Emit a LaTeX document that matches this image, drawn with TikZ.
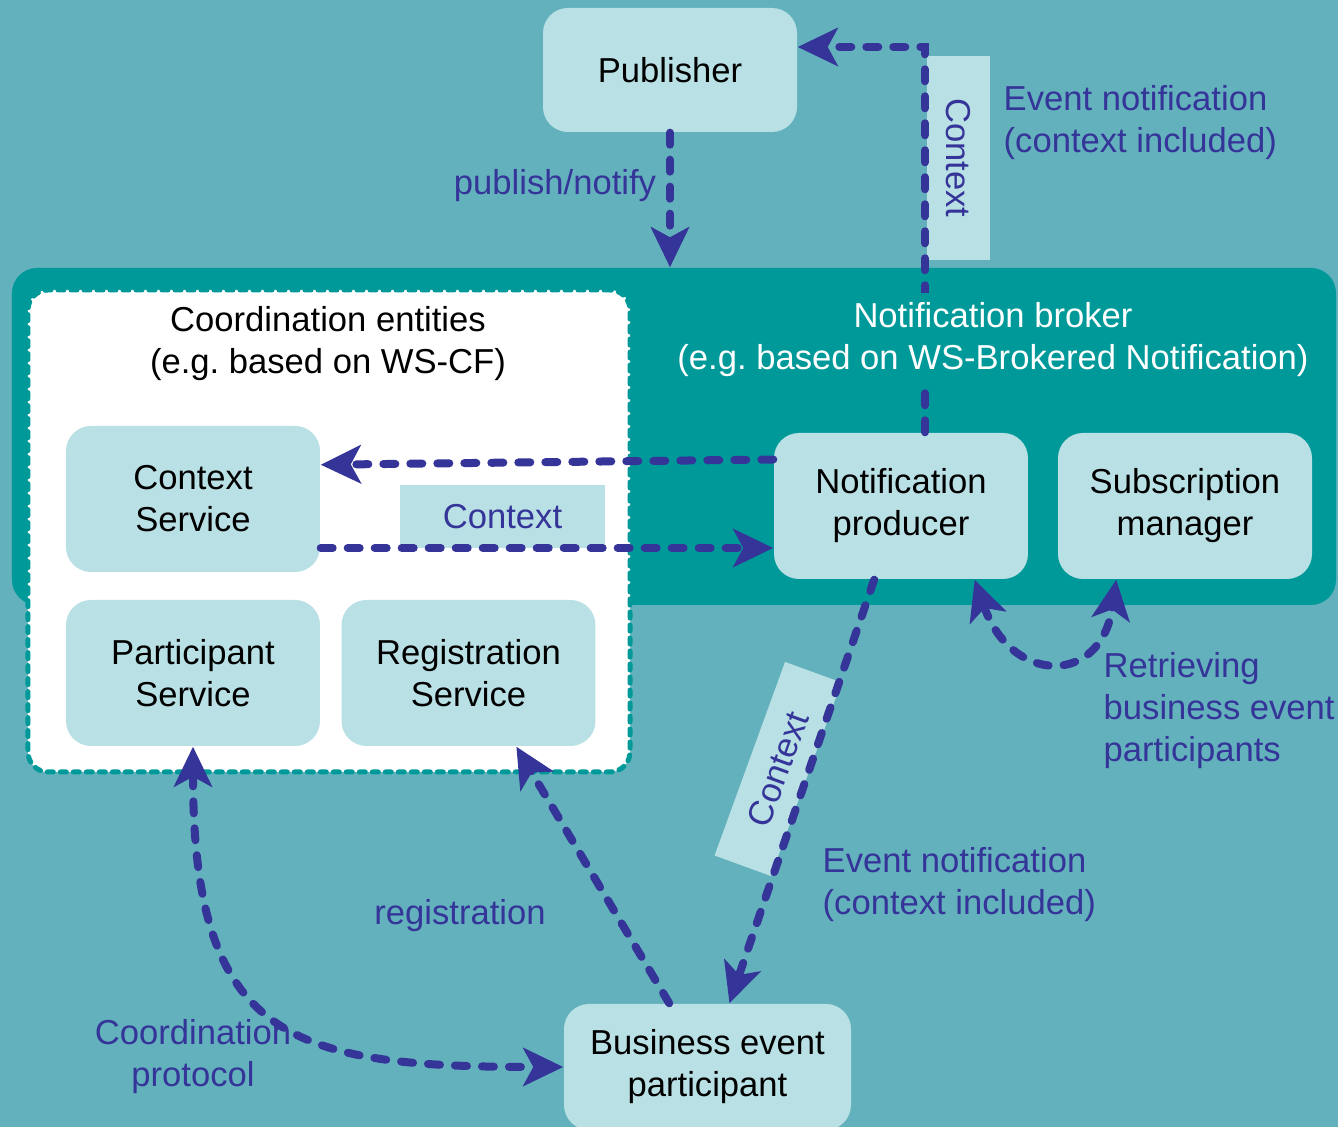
\documentclass[tikz,border=0pt]{standalone}
\usepackage{fontspec}
\setmainfont{Liberation Sans}
\usepackage{tikz}
\usetikzlibrary{arrows.meta}

\definecolor{bgteal}{RGB}{99,177,188}
\definecolor{brokerteal}{RGB}{0,153,153}
\definecolor{boxblue}{RGB}{185,224,228}
\definecolor{arrowblue}{RGB}{53,53,153}

\begin{document}
\begin{tikzpicture}[
		txt/.style={font=\fontsize{9.85}{11.95}\selectfont\frenchspacing},
		service/.style={txt, rectangle, rounded corners=0.25cm, fill=boxblue, minimum width=2.54cm, minimum height=1.46cm, align=center, inner sep=0},
		note/.style={txt, text=arrowblue, align=left, inner sep=0, yshift=-0.04cm},
		ctxbox/.style={txt, fill=boxblue, text=arrowblue, inner sep=0, minimum height=0.63cm},
		flow/.style={arrowblue, line width=0.08cm, line cap=round, dash pattern=on 0.12cm off 0.15cm, -{Stealth[length=0.4cm,width=0.38cm,inset=0.1cm]}},
		twoway/.style={flow, {Stealth[length=0.4cm,width=0.38cm,inset=0.1cm]}-{Stealth[length=0.4cm,width=0.38cm,inset=0.1cm]}},
	]
			\fill[bgteal] (0,0) rectangle (13.38,-11.27);
			\useasboundingbox (0,0) rectangle (13.38,-11.27);

			% broker and coordination area
			\node (br) [fill=brokerteal, rounded corners=0.25cm, minimum width=13.24cm, minimum height=3.37cm, inner sep=0] at (6.74,-4.365) {};
			\node (ce) [fill=white, draw=brokerteal, line width=0.05cm, line cap=round, dash pattern=on 0.06cm off 0.07cm, rounded corners=0.2cm, minimum width=6.02cm, minimum height=4.82cm, inner sep=0] at (3.29,-5.31) {};

			% context tags
			\node (ctxtop) [ctxbox, minimum width=2.04cm, rotate=-90] at (9.58,-1.58) {Context};
			\node (ctxmid) [ctxbox, minimum width=2.05cm] at (5.025,-5.165) {Context};
			\node (ctxlow) [ctxbox, minimum width=2.06cm, minimum height=0.6cm, rotate=70] at (7.78,-7.69) {Context};

			% services
			\node (pub) [service, minimum height=1.24cm] at (6.70,-0.70) {Publisher};
			\node (cs) [service] at (1.93,-4.99) {Context\\Service};
			\node (ps) [service] at (1.93,-6.73) {Participant\\Service};
			\node (rs) [service] at (4.685,-6.73) {Registration\\Service};
			\node (np) [service] at (9.01,-5.06) {Notification\\producer};
			\node (sm) [service] at (11.85,-5.06) {Subscription\\manager};
			\node (bep) [service, minimum width=2.87cm, minimum height=1.26cm] at (7.075,-10.67) {Business event\\participant};

			\node (cetitle) [txt, align=center, yshift=-0.04cm] at (3.28,-3.40) {Coordination entities\\(e.g. based on WS-CF)};

			% labels
			\node (pubnote) [note] at (5.55,-1.82) {publish/notify};
			\node (evtop) [note, anchor=west] at (10.03,-1.19) {Event notification\\(context included)};
			\node (evbot) [note, anchor=west] at (8.22,-8.81) {Event notification\\(context included)};
			\node (retr) [note, anchor=west] at (11.03,-7.07) {Retrieving\\business event\\participants};
			\node (regnote) [note] at (4.60,-9.12) {registration};
			\node (coordnote) [note, align=center] at (1.93,-10.525) {Coordination\\protocol};

			% connectors
			\coordinate (ctxbend) at (9.25,-0.47);
			\draw[flow] (pub.south) -- (pub.south |- br.north);
			\draw[flow] (ctxbend |- np.north) -- (ctxbend) -- (ctxbend -| pub.east);
			\draw[flow] (np.160) -- (cs.15);
			\draw[flow] (cs.-21.5) -- (cs.-21.5 -| np.west);
			\draw[flow] (np.-110) -- (bep.71);
			\draw[flow] (bep.121) -- (rs.-57);
			\draw[twoway] (np.-45) .. controls +(0.37,-1.06) and +(-0.15,-1.06) .. (sm.-133);
			\draw[twoway] (ps.south) .. controls +(0,-2.94) and +(-2.72,0) .. (bep.west);

			\node (brtitle) [txt, text=white, align=center, fill=brokerteal, inner sep=0.1cm, yshift=-0.04cm] at (9.93,-3.36) {Notification broker\\(e.g. based on WS-Brokered Notification)};
		\end{tikzpicture}
\end{document}
